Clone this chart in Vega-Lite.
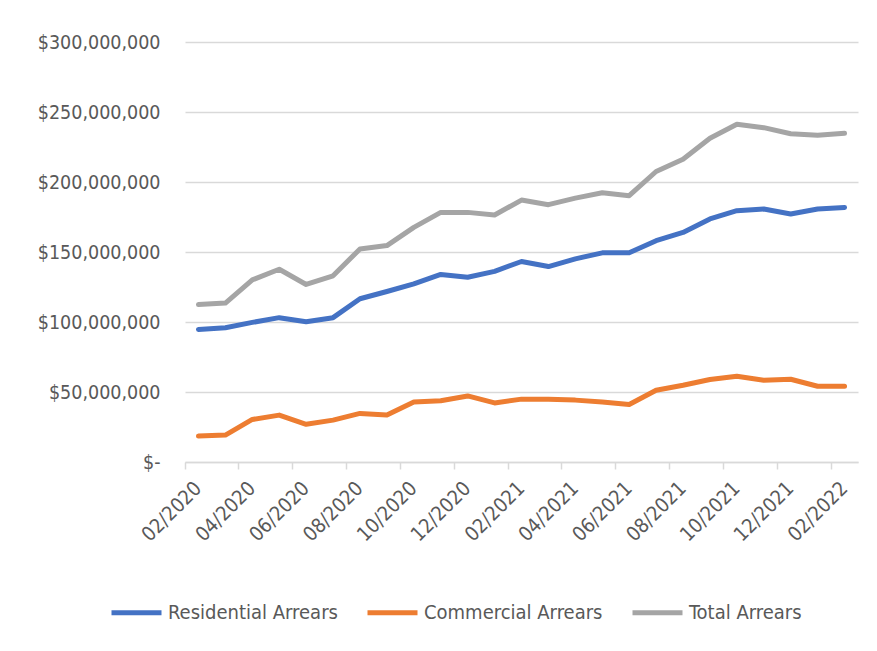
{
  "$schema": "https://vega.github.io/schema/vega-lite/v6.json",
  "width": 673,
  "height": 420,
  "autosize": "none",
  "padding": {"left": 185, "top": 42, "right": 19, "bottom": 189},
  "background": "white",
  "config": {
    "view": {"stroke": null},
    "font": "DejaVu Sans Condensed, Liberation Sans"
  },
  "data": {
    "values": [
      {"month": "02/2020", "series": "Residential Arrears", "value": 94700000},
      {"month": "03/2020", "series": "Residential Arrears", "value": 95900000},
      {"month": "04/2020", "series": "Residential Arrears", "value": 99700000},
      {"month": "05/2020", "series": "Residential Arrears", "value": 103100000},
      {"month": "06/2020", "series": "Residential Arrears", "value": 100200000},
      {"month": "07/2020", "series": "Residential Arrears", "value": 103100000},
      {"month": "08/2020", "series": "Residential Arrears", "value": 116600000},
      {"month": "09/2020", "series": "Residential Arrears", "value": 121800000},
      {"month": "10/2020", "series": "Residential Arrears", "value": 127300000},
      {"month": "11/2020", "series": "Residential Arrears", "value": 134000000},
      {"month": "12/2020", "series": "Residential Arrears", "value": 132000000},
      {"month": "01/2021", "series": "Residential Arrears", "value": 136200000},
      {"month": "02/2021", "series": "Residential Arrears", "value": 143200000},
      {"month": "03/2021", "series": "Residential Arrears", "value": 139600000},
      {"month": "04/2021", "series": "Residential Arrears", "value": 145100000},
      {"month": "05/2021", "series": "Residential Arrears", "value": 149400000},
      {"month": "06/2021", "series": "Residential Arrears", "value": 149400000},
      {"month": "07/2021", "series": "Residential Arrears", "value": 158100000},
      {"month": "08/2021", "series": "Residential Arrears", "value": 164000000},
      {"month": "09/2021", "series": "Residential Arrears", "value": 173600000},
      {"month": "10/2021", "series": "Residential Arrears", "value": 179500000},
      {"month": "11/2021", "series": "Residential Arrears", "value": 180700000},
      {"month": "12/2021", "series": "Residential Arrears", "value": 177100000},
      {"month": "01/2022", "series": "Residential Arrears", "value": 180700000},
      {"month": "02/2022", "series": "Residential Arrears", "value": 181800000},
      {"month": "02/2020", "series": "Commercial Arrears", "value": 18500000},
      {"month": "03/2020", "series": "Commercial Arrears", "value": 19200000},
      {"month": "04/2020", "series": "Commercial Arrears", "value": 30400000},
      {"month": "05/2020", "series": "Commercial Arrears", "value": 33500000},
      {"month": "06/2020", "series": "Commercial Arrears", "value": 26900000},
      {"month": "07/2020", "series": "Commercial Arrears", "value": 29900000},
      {"month": "08/2020", "series": "Commercial Arrears", "value": 34700000},
      {"month": "09/2020", "series": "Commercial Arrears", "value": 33500000},
      {"month": "10/2020", "series": "Commercial Arrears", "value": 42900000},
      {"month": "11/2020", "series": "Commercial Arrears", "value": 43700000},
      {"month": "12/2020", "series": "Commercial Arrears", "value": 47200000},
      {"month": "01/2021", "series": "Commercial Arrears", "value": 42200000},
      {"month": "02/2021", "series": "Commercial Arrears", "value": 44900000},
      {"month": "03/2021", "series": "Commercial Arrears", "value": 44900000},
      {"month": "04/2021", "series": "Commercial Arrears", "value": 44200000},
      {"month": "05/2021", "series": "Commercial Arrears", "value": 42900000},
      {"month": "06/2021", "series": "Commercial Arrears", "value": 41100000},
      {"month": "07/2021", "series": "Commercial Arrears", "value": 51300000},
      {"month": "08/2021", "series": "Commercial Arrears", "value": 54800000},
      {"month": "09/2021", "series": "Commercial Arrears", "value": 58900000},
      {"month": "10/2021", "series": "Commercial Arrears", "value": 61300000},
      {"month": "11/2021", "series": "Commercial Arrears", "value": 58400000},
      {"month": "12/2021", "series": "Commercial Arrears", "value": 59100000},
      {"month": "01/2022", "series": "Commercial Arrears", "value": 54100000},
      {"month": "02/2022", "series": "Commercial Arrears", "value": 54100000},
      {"month": "02/2020", "series": "Total Arrears", "value": 112500000},
      {"month": "03/2020", "series": "Total Arrears", "value": 113500000},
      {"month": "04/2020", "series": "Total Arrears", "value": 130100000},
      {"month": "05/2020", "series": "Total Arrears", "value": 137700000},
      {"month": "06/2020", "series": "Total Arrears", "value": 126800000},
      {"month": "07/2020", "series": "Total Arrears", "value": 133000000},
      {"month": "08/2020", "series": "Total Arrears", "value": 152200000},
      {"month": "09/2020", "series": "Total Arrears", "value": 154600000},
      {"month": "10/2020", "series": "Total Arrears", "value": 167600000},
      {"month": "11/2020", "series": "Total Arrears", "value": 178300000},
      {"month": "12/2020", "series": "Total Arrears", "value": 178300000},
      {"month": "01/2021", "series": "Total Arrears", "value": 176400000},
      {"month": "02/2021", "series": "Total Arrears", "value": 187100000},
      {"month": "03/2021", "series": "Total Arrears", "value": 183800000},
      {"month": "04/2021", "series": "Total Arrears", "value": 188500000},
      {"month": "05/2021", "series": "Total Arrears", "value": 192300000},
      {"month": "06/2021", "series": "Total Arrears", "value": 190200000},
      {"month": "07/2021", "series": "Total Arrears", "value": 207500000},
      {"month": "08/2021", "series": "Total Arrears", "value": 216300000},
      {"month": "09/2021", "series": "Total Arrears", "value": 231300000},
      {"month": "10/2021", "series": "Total Arrears", "value": 241200000},
      {"month": "11/2021", "series": "Total Arrears", "value": 238800000},
      {"month": "12/2021", "series": "Total Arrears", "value": 234500000},
      {"month": "01/2022", "series": "Total Arrears", "value": 233400000},
      {"month": "02/2022", "series": "Total Arrears", "value": 234800000}
    ]
  },
  "mark": {"type": "line", "strokeWidth": 5, "strokeCap": "round", "strokeJoin": "round"},
  "encoding": {
    "x": {
      "field": "month",
      "type": "ordinal",
      "scale": {
        "type": "band",
        "paddingInner": 0,
        "paddingOuter": 0,
        "domain": ["02/2020","03/2020","04/2020","05/2020","06/2020","07/2020","08/2020","09/2020","10/2020","11/2020","12/2020","01/2021","02/2021","03/2021","04/2021","05/2021","06/2021","07/2021","08/2021","09/2021","10/2021","11/2021","12/2021","01/2022","02/2022"]
      },
      "axis": {
        "title": null,
        "values": ["02/2020","04/2020","06/2020","08/2020","10/2020","12/2020","02/2021","04/2021","06/2021","08/2021","10/2021","12/2021","02/2022"],
        "bandPosition": 0,
        "labelAngle": -45,
        "labelAlign": "right",
        "labelBaseline": "middle",
        "labelPadding": 16,
        "labelFontSize": 20,
        "labelColor": "#595959",
        "tickSize": 7,
        "tickColor": "#d9d9d9",
        "tickWidth": 1.5,
        "domainColor": "#d9d9d9",
        "domainWidth": 1.5,
        "grid": false,
        "labelOverlap": false
      }
    },
    "y": {
      "field": "value",
      "type": "quantitative",
      "scale": {"domain": [0, 300000000], "nice": false},
      "axis": {
        "title": null,
        "values": [0, 50000000, 100000000, 150000000, 200000000, 250000000, 300000000],
        "labelExpr": "datum.value == 0 ? '$-' : '$' + format(datum.value, ',')",
        "labelFontSize": 19.5,
        "labelColor": "#595959",
        "labelPadding": 25,
        "ticks": false,
        "domain": false,
        "grid": true,
        "gridColor": "#d9d9d9",
        "gridWidth": 1.5
      }
    },
    "color": {
      "field": "series",
      "type": "nominal",
      "scale": {
        "domain": ["Residential Arrears", "Commercial Arrears", "Total Arrears"],
        "range": ["#4472C4", "#ED7D31", "#A5A5A5"]
      },
      "legend": {
        "title": null,
        "orient": "none",
        "direction": "horizontal",
        "legendX": -76,
        "legendY": 543,
        "symbolType": "stroke",
        "symbolSize": 2500,
        "symbolStrokeWidth": 5,
        "labelFontSize": 20,
        "labelColor": "#595959",
        "labelOffset": 4,
        "columnPadding": 19,
        "labelLimit": 400
      }
    }
  }
}
